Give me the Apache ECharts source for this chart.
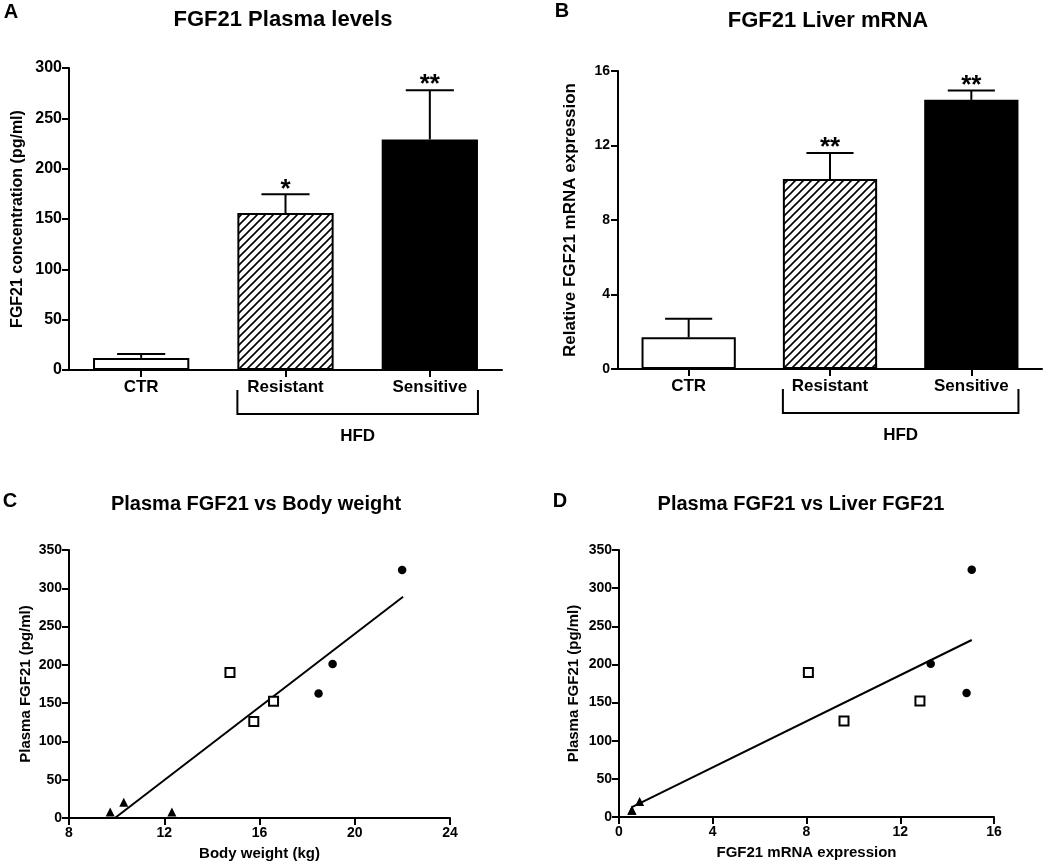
<!DOCTYPE html>
<html><head><meta charset="utf-8">
<script src="https://cdn.jsdelivr.net/npm/echarts@6/dist/echarts.min.js"></script>
<style>html,body{margin:0;padding:0;background:#fff}#c{width:1050px;height:864px}</style>
</head><body><div id="c"></div>
<script>
// ---------- DATA ----------
const groups = ['CTR', 'Resistant', 'Sensitive'];
// Panel A: FGF21 plasma levels (pg/ml)
const plasmaMean = [12, 156, 229];
const plasmaErrTop = [16, 174.5, 278];
const plasmaStars = ['', '*', '**'];
// Panel B: FGF21 liver mRNA (relative)
const mrnaMean = [1.7, 10.2, 14.45];
const mrnaErrTop = [2.7, 11.6, 14.95];
const mrnaStars = ['', '**', '**'];
// bracket below the HFD groups
const hfdFrom = 'Resistant';
const hfdTo = 'Sensitive';
const hfdLabel = 'HFD';
// Panel C: plasma FGF21 vs body weight
const bwCTR = [[9.73, 7.8], [10.30, 20.5], [12.32, 7.8]];
const bwRes = [[14.76, 190], [15.76, 126], [16.59, 152.5]];
const bwSen = [[18.48, 162.5], [19.07, 201], [21.99, 324]];
const bwFit = [[9.93, 0], [22.03, 289]];
// Panel D: plasma FGF21 vs liver FGF21 mRNA
const lvCTR = [[0.55, 8.8], [0.55, 8.8], [0.88, 20.2]];
const lvRes = [[8.08, 189.5], [9.6, 126], [12.84, 152]];
const lvSen = [[13.3, 200.8], [14.83, 162.7], [15.05, 324]];
const lvFit = [[0.55, 13], [15.05, 232]];
// tick settings
const plasmaTicks = {min: 0, max: 300, interval: 50};
const mrnaTicks = {min: 0, max: 16, interval: 4};
const bwTicks = {min: 8, max: 24, interval: 4};
const lvTicks = {min: 0, max: 16, interval: 4};
const scatterYTicks = {min: 0, max: 350, interval: 50};

// ---------- STYLE ----------
const FF = '"Liberation Sans", Arial, Helvetica, sans-serif';
const pc = document.createElement('canvas');
pc.width = 8; pc.height = 8;
const g = pc.getContext('2d');
g.fillStyle = '#fff'; g.fillRect(0, 0, 8, 8);
g.strokeStyle = '#000'; g.lineWidth = 1.6; g.lineCap = 'square';
g.beginPath();
g.moveTo(-1, 9); g.lineTo(9, -1);
g.moveTo(-1, 1); g.lineTo(1, -1);
g.moveTo(7, 9); g.lineTo(9, 7);
g.stroke();
const hatch = {image: pc, repeat: 'repeat'};
const barFills = ['#ffffff', hatch, '#000000'];

function axisBase(fontSize, margin) {
  return {
    axisLine: {show: true, onZero: false, lineStyle: {color: '#000', width: 2}},
    axisTick: {show: true, inside: false, length: 7, lineStyle: {color: '#000', width: 2}},
    axisLabel: {color: '#000', fontWeight: 'bold', fontSize: fontSize, fontFamily: FF, margin: margin},
    splitLine: {show: false},
    nameTextStyle: {color: '#000', fontWeight: 'bold', fontFamily: FF}
  };
}
function catAxis(gi) {
  return Object.assign(axisBase(17, 9), {
    type: 'category', gridIndex: gi, data: groups, boundaryGap: true,
    axisTick: {show: true, alignWithLabel: true, length: 7, lineStyle: {color: '#000', width: 2}}
  });
}
function valAxis(gi, t, fs, margin, extra) {
  return Object.assign(axisBase(fs, margin), {type: 'value', gridIndex: gi, min: t.min, max: t.max, interval: t.interval}, extra || {});
}
function yName(name, fs, gap) {
  return {name: name, nameLocation: 'middle', nameRotate: 90, nameGap: gap,
    nameTextStyle: {color: '#000', fontWeight: 'bold', fontFamily: FF, fontSize: fs}};
}
function xName(name, fs, gap) {
  return {name: name, nameLocation: 'middle', nameGap: gap,
    nameTextStyle: {color: '#000', fontWeight: 'bold', fontFamily: FF, fontSize: fs}};
}

function barSeries(ai, means) {
  return {
    type: 'bar', xAxisIndex: ai, yAxisIndex: ai, barWidth: '66.7%', z: 2,
    data: means.map((v, i) => ({value: v, itemStyle: {color: barFills[i], borderColor: '#000', borderWidth: 2}}))
  };
}
function errSeries(ai, means, tops, stars) {
  return {
    type: 'custom', xAxisIndex: ai, yAxisIndex: ai, z: 3, clip: false,
    data: means.map((v, i) => [i, v, tops[i]]),
    encode: {x: 0, y: 2},
    renderItem: function (params, api) {
      const i = api.value(0);
      const base = api.coord([i, api.value(1)]);
      const top = api.coord([i, api.value(2)]);
      const bw = api.size([1, 0])[0];
      const half = bw / 6;
      const st = {stroke: '#000', lineWidth: 2};
      return {type: 'group', children: [
        {type: 'line', shape: {x1: top[0], y1: base[1], x2: top[0], y2: top[1]}, style: st},
        {type: 'line', shape: {x1: top[0] - half, y1: top[1], x2: top[0] + half, y2: top[1]}, style: st},
        {type: 'text', x: top[0], y: top[1] - 5, style: {text: stars[params.dataIndex], fill: '#000',
          font: 'bold 26px ' + FF, textAlign: 'center', textVerticalAlign: 'middle'}}
      ]};
    }
  };
}
function bracketSeries(ai) {
  return {
    type: 'custom', xAxisIndex: ai, yAxisIndex: ai, z: 3, clip: false, silent: true,
    data: [[groups.indexOf(hfdFrom), 0, groups.indexOf(hfdTo)]],
    renderItem: function (params, api) {
      const a = api.coord([api.value(0), 0]);
      const b = api.coord([api.value(2), 0]);
      const bw = api.size([1, 0])[0];
      const x1 = a[0] - bw / 3, x2 = b[0] + bw / 3, y0 = a[1];
      const st = {stroke: '#000', lineWidth: 2, fill: null};
      return {type: 'group', children: [
        {type: 'polyline', shape: {points: [[x1, y0 + 20], [x1, y0 + 44], [x2, y0 + 44], [x2, y0 + 20]]}, style: st},
        {type: 'text', x: (x1 + x2) / 2, y: y0 + 66, style: {text: hfdLabel, fill: '#000',
          font: 'bold 17px ' + FF, textAlign: 'center', textVerticalAlign: 'middle'}}
      ]};
    }
  };
}
function scatterSet(ai, ctr, res, sen, fit) {
  return [
    {type: 'line', xAxisIndex: ai, yAxisIndex: ai, data: fit, symbol: 'none', showSymbol: false,
      lineStyle: {color: '#000', width: 2}, z: 2, silent: true},
    {type: 'scatter', xAxisIndex: ai, yAxisIndex: ai, data: ctr, symbol: 'triangle', symbolSize: 9,
      itemStyle: {color: '#000', opacity: 1}, z: 3},
    {type: 'scatter', xAxisIndex: ai, yAxisIndex: ai, data: res, symbol: 'rect', symbolSize: 9,
      itemStyle: {color: '#fff', borderColor: '#000', borderWidth: 2, opacity: 1}, z: 3},
    {type: 'scatter', xAxisIndex: ai, yAxisIndex: ai, data: sen, symbol: 'circle', symbolSize: 8.5,
      itemStyle: {color: '#000', opacity: 1}, z: 3}
  ];
}
function txt(text, x, y, size) {
  return {type: 'text', x: x, y: y, style: {text: text, fill: '#000', font: 'bold ' + size + 'px ' + FF,
    textAlign: 'center', textVerticalAlign: 'middle'}};
}

const chart = echarts.init(document.getElementById('c'), null, {renderer: 'canvas'});
chart.setOption({
  animation: false,
  backgroundColor: '#fff',
  grid: [
    {left: 69, top: 68, width: 433, height: 302},
    {left: 618, top: 71, width: 424, height: 298},
    {left: 69, top: 550, width: 381, height: 268},
    {left: 619, top: 550, width: 375, height: 267}
  ],
  xAxis: [
    catAxis(0),
    catAxis(1),
    valAxis(2, bwTicks, 14, 8, xName('Body weight (kg)', 15, 28)),
    valAxis(3, lvTicks, 14, 8, xName('FGF21 mRNA expression', 15, 28))
  ],
  yAxis: [
    valAxis(0, plasmaTicks, 16, 7, yName('FGF21 concentration (pg/ml)', 16, 43)),
    valAxis(1, mrnaTicks, 14, 8, yName('Relative FGF21 mRNA expression', 17, 39)),
    valAxis(2, scatterYTicks, 14, 7, yName('Plasma FGF21 (pg/ml)', 15, 36)),
    valAxis(3, scatterYTicks, 14, 7, yName('Plasma FGF21 (pg/ml)', 15, 38))
  ],
  graphic: [
    txt('A', 11, 12, 20),
    txt('FGF21 Plasma levels', 283, 20, 22),
    txt('B', 562, 11, 20),
    txt('FGF21 Liver mRNA', 828, 21, 22),
    txt('C', 10, 501, 20),
    txt('Plasma FGF21 vs Body weight', 256, 504, 20),
    txt('D', 560, 501, 20),
    txt('Plasma FGF21 vs Liver FGF21', 801, 504, 20)
  ],
  series: [
    barSeries(0, plasmaMean),
    errSeries(0, plasmaMean, plasmaErrTop, plasmaStars),
    bracketSeries(0),
    barSeries(1, mrnaMean),
    errSeries(1, mrnaMean, mrnaErrTop, mrnaStars),
    bracketSeries(1)
  ].concat(scatterSet(2, bwCTR, bwRes, bwSen, bwFit))
   .concat(scatterSet(3, lvCTR, lvRes, lvSen, lvFit))
});
</script>
</body></html>
